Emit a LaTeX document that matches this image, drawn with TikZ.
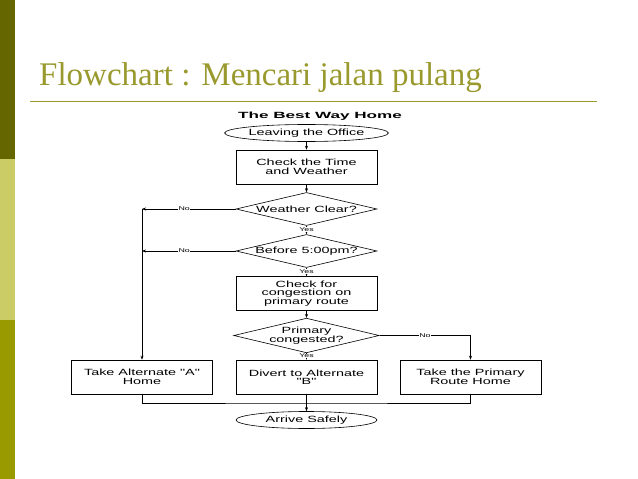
\documentclass[tikz,border=0pt]{standalone}
\usepackage{fontspec}
\setmainfont{Liberation Serif}
\newfontfamily\diagfont[FakeStretch=1.6]{Liberation Sans}
\newfontfamily\headfont[FakeStretch=1.9]{Liberation Sans}
\usetikzlibrary{shapes.geometric,arrows.meta}
\definecolor{oliveA}{HTML}{666600}
\definecolor{oliveB}{HTML}{CCCC66}
\definecolor{oliveC}{HTML}{999900}
\definecolor{titlec}{HTML}{99992E}
\begin{document}
\begin{tikzpicture}[x=1pt,y=-1pt,
  box/.style={draw,line width=0.6pt,minimum width=141pt,minimum height=34pt,align=center,font=\diagfont\fontsize{9}{8.5}\selectfont,inner sep=1pt},
  term/.style={draw,ellipse,line width=0.6pt,minimum width=141pt,minimum height=17pt,inner sep=0pt,font=\diagfont\fontsize{9}{8.5}\selectfont},
  dec/.style={draw,diamond,aspect=4.2,line width=0.6pt,minimum width=141pt,minimum height=33pt,inner sep=0pt,align=center,font=\diagfont\fontsize{9}{8.5}\selectfont},
  lab/.style={font=\diagfont\fontsize{5.5}{5.5}\selectfont,fill=white,inner sep=0.5pt},
  arr/.style={-{Stealth[length=4pt,width=3pt]},line width=0.5pt},
  ln/.style={line width=0.5pt}]
\useasboundingbox (0,0) rectangle (638,479);
\fill[white] (0,0) rectangle (638,479);
\fill[oliveA] (0,0) rectangle (15,159);
\fill[oliveB] (0,159) rectangle (15,320);
\fill[oliveC] (0,320) rectangle (15,479);
\draw[titlec,line width=0.8pt] (30,101) -- (597,101);
\node[anchor=base west,text=titlec,font=\fontsize{33}{33}\selectfont,inner sep=0pt] (title) at (39,85) {Flowchart : Mencari jalan pulang};
\node[font=\headfont\bfseries\fontsize{9}{9}\selectfont] (head) at (320,116) {The Best Way Home};
\node[term] (leave) at (306.5,133) {Leaving the Office};
\node[box] (check) at (306.5,167) {Check the Time\\and Weather};
\node[dec] (wc) at (306.5,209) {Weather Clear?};
\node[dec] (b5) at (306.5,251) {Before 5:00pm?};
\node[box] (cong) at (306.5,293.5) {Check for\\congestion on\\primary route};
\node[dec] (pc) at (306.5,335.5) {Primary\\congested?};
\node[box] (ta) at (142,377) {Take Alternate "A"\\Home};
\node[box] (div) at (306.5,377) {Divert to Alternate\\"B"};
\node[box] (tp) at (470.5,377) {Take the Primary\\Route Home};
\node[term] (arr) at (306.5,420) {Arrive Safely};
\coordinate (m) at (306.5,403);
\coordinate (wl) at (142,209);
\coordinate (bl) at (142,251);
\coordinate (pr) at (470.5,335.5);
\draw[arr] (leave) -- (check);
\draw[arr] (check) -- (wc);
\draw[arr] (wc) -- node[lab,pos=0.45]{Yes} (b5);
\draw[arr] (b5) -- node[lab,pos=0.45]{Yes} (cong);
\draw[arr] (cong) -- (pc);
\draw[arr] (pc) -- node[lab,pos=0.45]{Yes} (div);
\draw[arr] (wc.west) -- node[lab,pos=0.55]{No} (wl);
\draw[arr] (b5.west) -- node[lab,pos=0.55]{No} (bl);
\draw[arr] (wl) -- (ta.north);
\draw[ln] (pc.east) -- node[lab,pos=0.5]{No} (pr);
\draw[arr] (pr) -- (tp.north);
\draw[ln] (ta.south) |- (m) -| (tp.south);
\draw[arr] (div.south) -- (arr.north);
\end{tikzpicture}
\end{document}
